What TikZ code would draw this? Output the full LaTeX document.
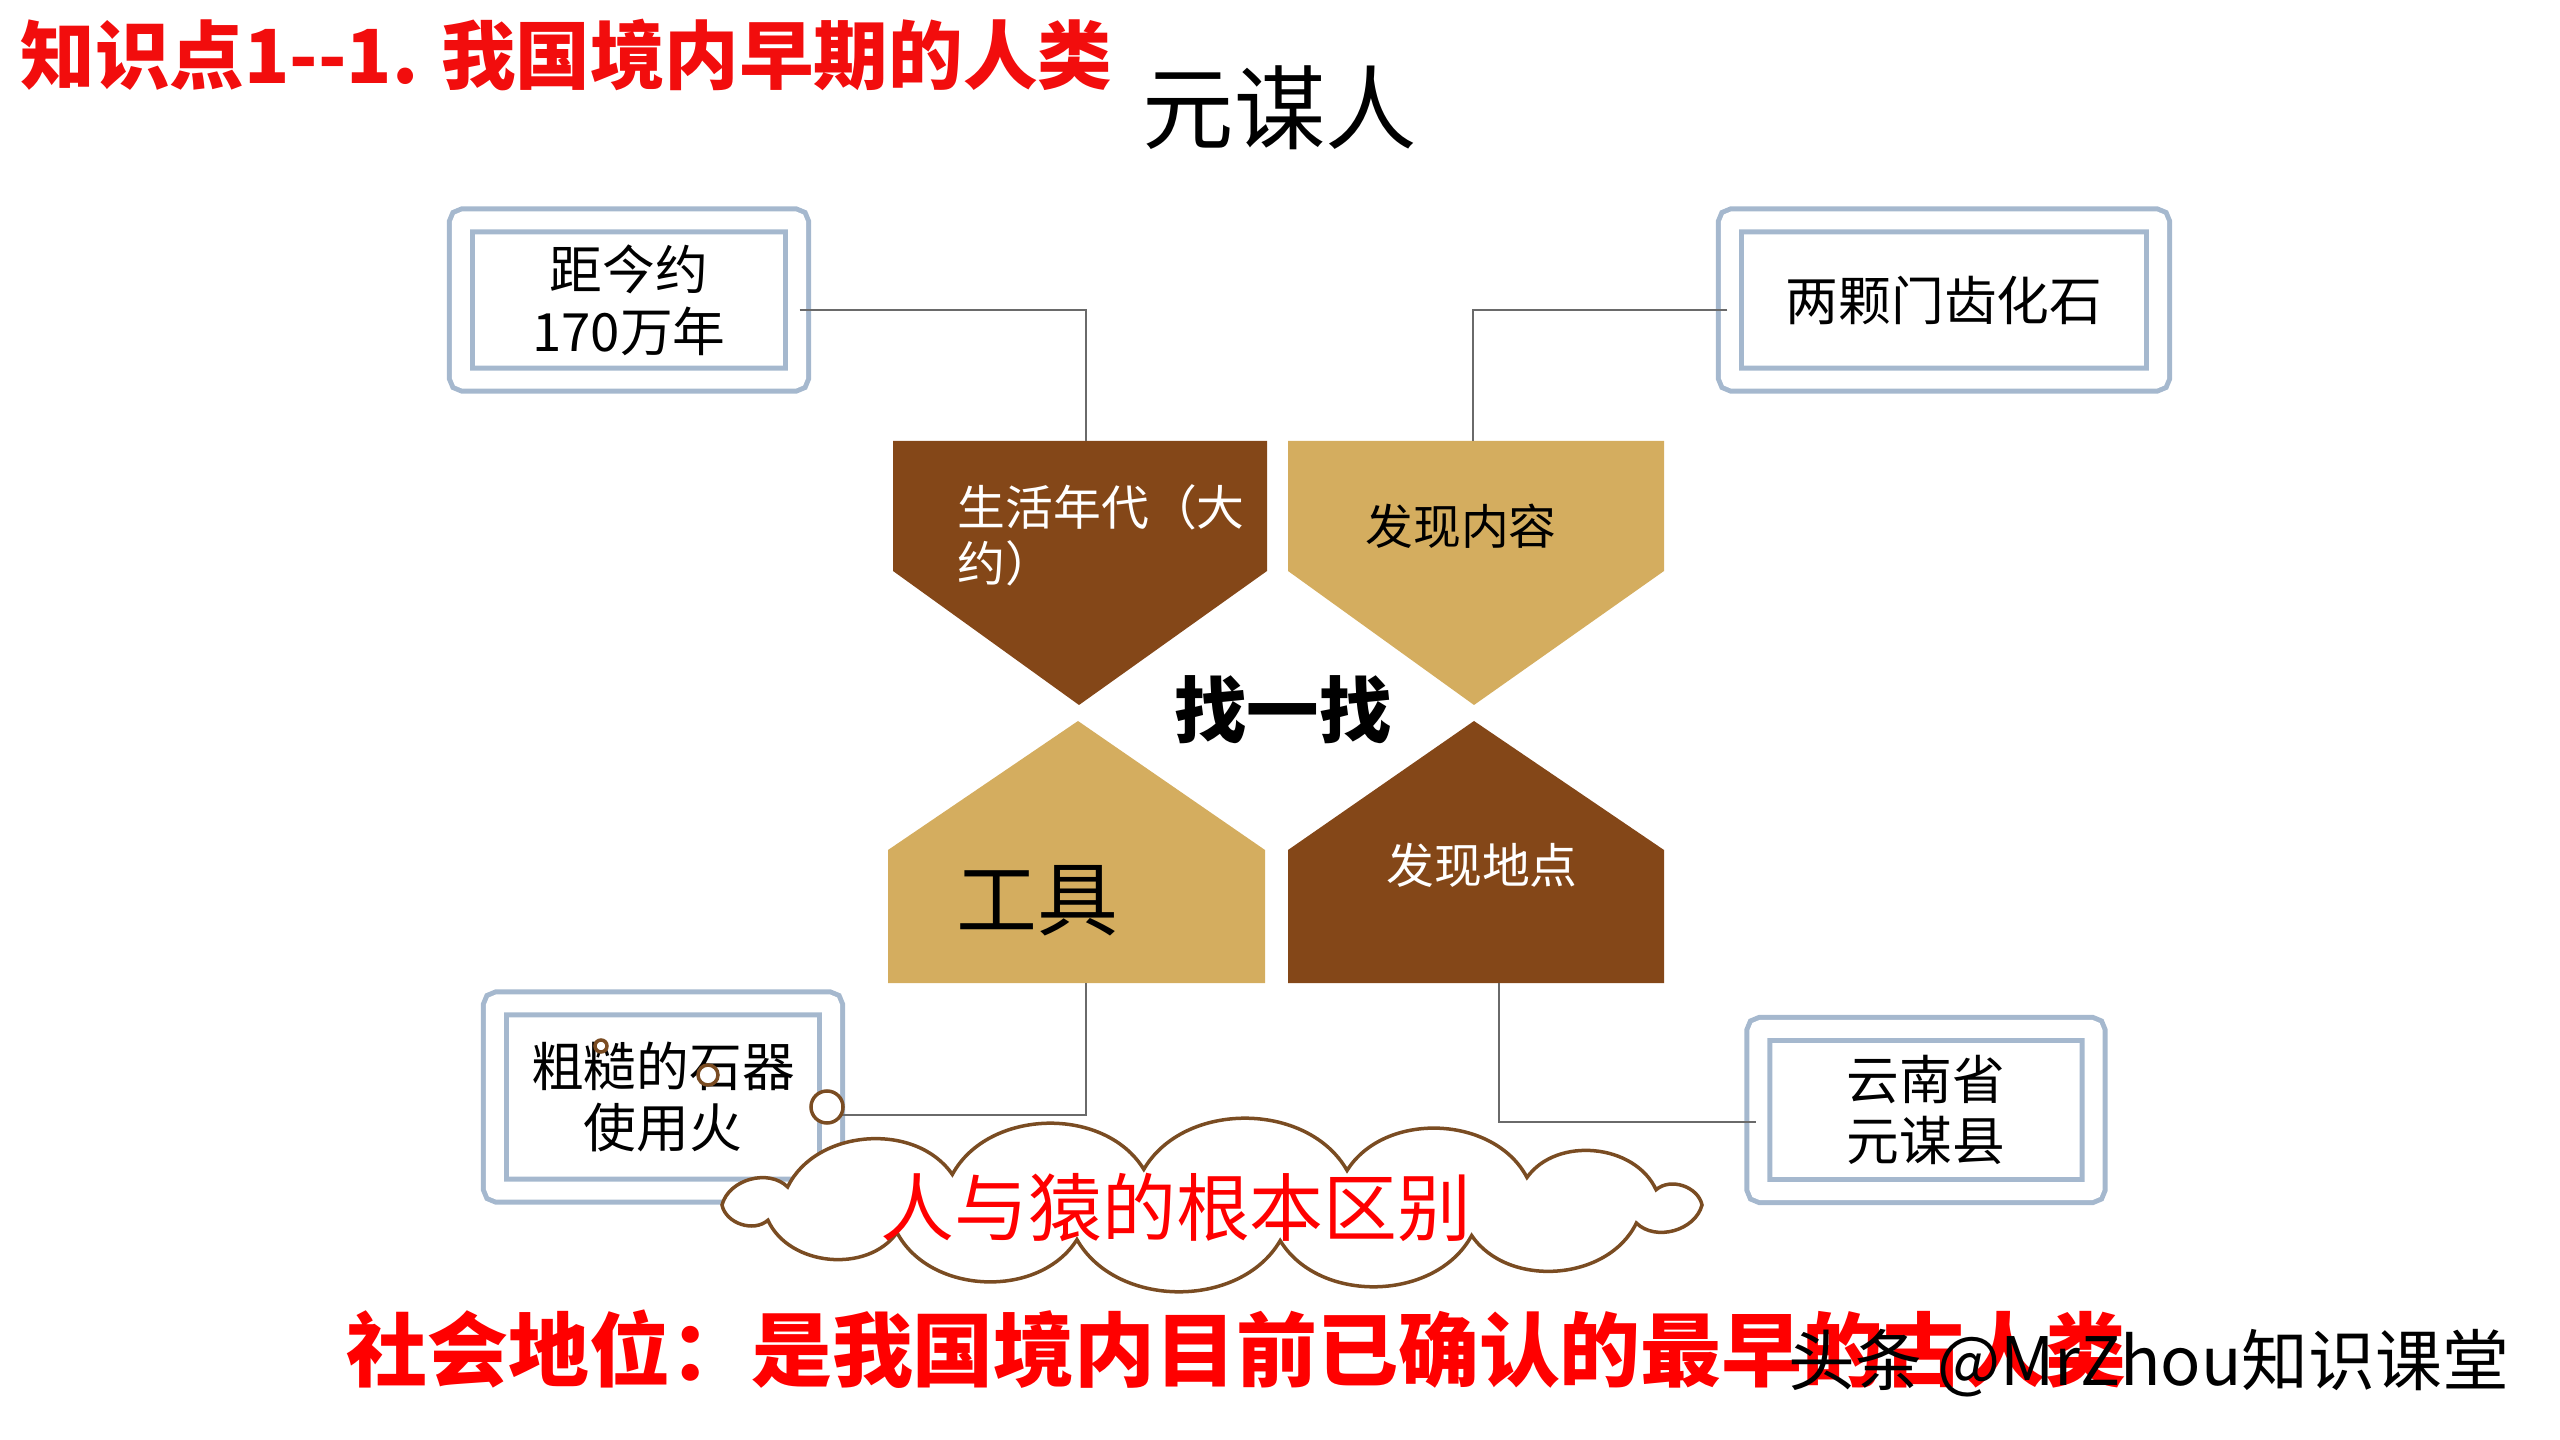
\documentclass[tikz,border=0pt]{standalone}
\usepackage{fontspec}
\setmainfont{Noto Sans CJK SC}

\definecolor{chestnut}{HTML}{844718}
\definecolor{sand}{HTML}{D4AD5F}
\definecolor{frameblue}{HTML}{A5B8CE}
\definecolor{wiregray}{HTML}{6A6A6A}
\definecolor{puffbrown}{HTML}{7A4C22}
\definecolor{titlered}{HTML}{F20D0D}

\tikzset{
	framebox/.style={draw=frameblue, line width=0.05cm, double=white, double distance=0.18cm, rounded corners=0.03cm, align=center, inner sep=0pt, font=\fontsize{15}{17.6}\selectfont},
	tiletext/.style={inner sep=0pt, font=\fontsize{13.6}{16}\selectfont},
	wire/.style={draw=wiregray, line width=0.025cm},
	bubble/.style={draw=puffbrown, line width=0.035cm, fill=white},
}

\begin{document}
\begin{tikzpicture}[x=0.01cm, y=-0.01cm]
			%%%%% START %%%%%
			\useasboundingbox (0,0) rectangle (2560,1440);
			
			\node[anchor=west, inner sep=0pt, text=titlered, font=\bfseries\fontsize{21.2}{24}\selectfont] (heading) at (20, 55) {知识点1-{}-1. 我国境内早期的人类};
			\node[inner sep=0pt, font=\fontsize{26}{30}\selectfont] (yuanmou) at (1280, 108) {元谋人};
			
			\fill[chestnut] (893, 441) -- (1267, 441) -- (1267, 571) -- (1079, 705) -- (893, 571) -- cycle;
			\fill[sand] (1288, 441) -- (1664, 441) -- (1664, 571) -- (1474, 705) -- (1288, 571) -- cycle;
			\fill[sand] (888, 983) -- (1265, 983) -- (1265, 850) -- (1078, 721) -- (888, 850) -- cycle;
			\fill[chestnut] (1288, 983) -- (1664, 983) -- (1664, 850) -- (1474, 721) -- (1288, 850) -- cycle;
			
			\node[tiletext, text=white, anchor=west, align=left] (agelbl) at (957, 535) {生活年代（大\\约）};
			\node[tiletext] (findlbl) at (1461, 526) {发现内容};
			\node[tiletext, text=white] (placelbl) at (1482, 865) {发现地点};
			\node[inner sep=0pt, font=\fontsize{23}{26}\selectfont] (toollbl) at (1037, 901) {工具};
			\node[inner sep=0pt, font=\bfseries\fontsize{20.6}{24}\selectfont] (seek) at (1283, 710) {找一找};
			
			\coordinate (ageTop) at (1086, 441);
			\coordinate (findTop) at (1473, 441);
			\coordinate (toolBot) at (1086, 983);
			\coordinate (placeBot) at (1499, 983);
			
			\node[framebox, minimum width=3.36cm, minimum height=1.59cm] (age) at (629, 300) {距今约\\170万年};
			\node[framebox, minimum width=4.28cm, minimum height=1.59cm] (teeth) at (1944, 300) {两颗门齿化石};
			\node[framebox, minimum width=3.36cm, minimum height=1.87cm] (tools) at (663, 1097) {粗糙的石器\\使用火};
			\node[framebox, minimum width=3.35cm, minimum height=1.62cm] (place) at (1926, 1110) {云南省\\元谋县};
			
			\draw[wire] ([yshift=-0.1cm]age.east) -| (ageTop);
			\draw[wire] ([yshift=-0.1cm]teeth.west) -| (findTop);
			\draw[wire] ([yshift=-0.18cm]tools.east) -| (toolBot);
			\draw[wire] ([yshift=-0.12cm]place.west) -| (placeBot);
			
			% cloud round the key sentence
			\draw[bubble] (1702, 1205) \foreach \t in {30,58,82,106,130,155,180,210,238,262,286,310,335,360} { to[bend left=60] ({1212+490*cos(\t)}, {1205+36*sin(\t)}) } -- cycle;
			\node[inner sep=0pt, text=red, font=\fontsize{21}{24}\selectfont] (gaplbl) at (1176, 1208) {人与猿的根本区别};
			
			\draw[bubble] (827, 1107) circle (0.16cm);
			\draw[bubble] (708, 1075) circle (0.1cm);
			\draw[bubble] (601, 1046) circle (0.06cm);
			
			\node[anchor=west, inner sep=0pt, text=red, font=\bfseries\fontsize{23}{26}\selectfont] (status) at (346, 1349) {社会地位：是我国境内目前已确认的最早的古人类};
			\node[anchor=west, inner sep=0pt, font=\fontsize{19}{22}\selectfont] (mark) at (1788, 1363) {头条 @MrZhou知识课堂};
			
			%%%%% END %%%%%
\end{tikzpicture}
\end{document}
